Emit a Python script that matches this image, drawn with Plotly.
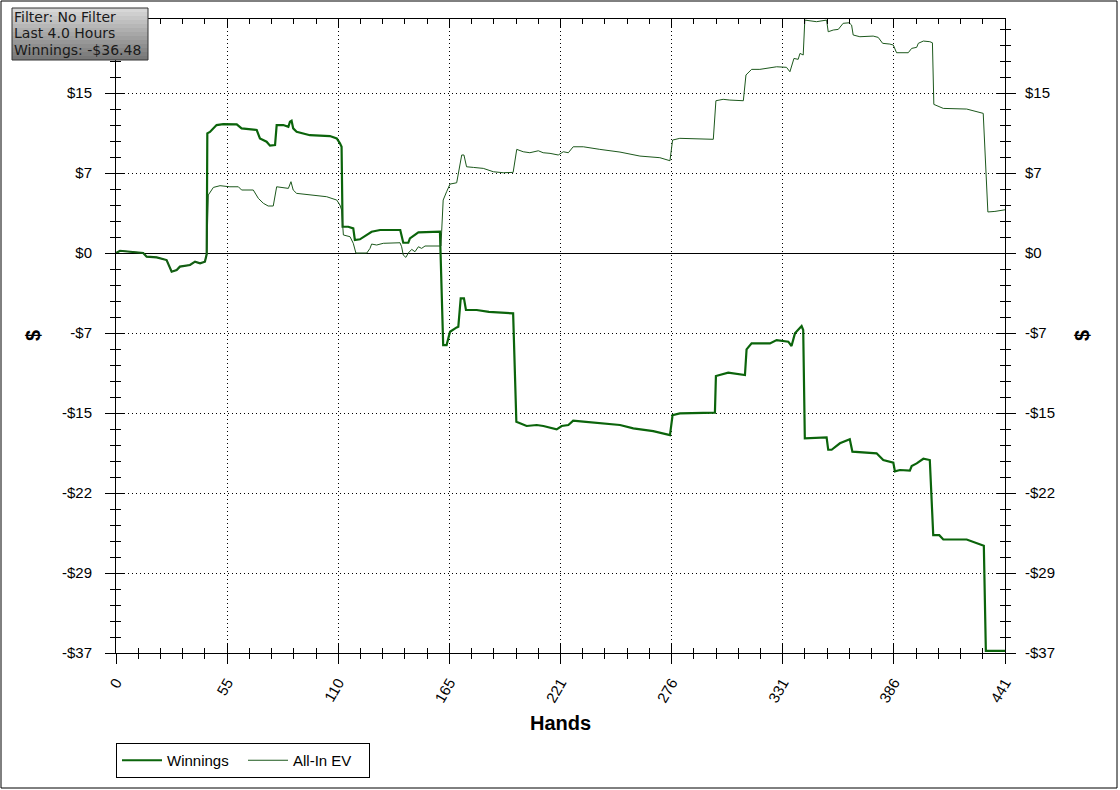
import plotly.graph_objects as go

# ---------------- data ----------------
win_hands = [0, 2, 7, 13.5, 15.2, 20.2, 25.1, 27.6, 30.1, 31.7, 36.7, 39.2, 41.7, 44.1, 45,
             45.3, 46.6, 49.9, 53.2, 59.9, 62.3, 69.8, 71.4, 74.7, 76.4, 78.9, 79.7, 83, 85.5,
             86.3, 87.1, 87.9, 89.6, 96.2, 106.1, 109.5, 111.1, 111.9, 112.4, 115.2, 117.7,
             118.5, 121, 126.8, 131, 141, 142.5, 145, 145.8, 150, 160.7, 162, 162.3, 164,
             165.7, 169, 169.8, 171, 172.6, 173.6, 178.9, 185, 197, 198.6, 203.7, 208.7, 212,
             218.6, 221.1, 224.4, 226.8, 231.8, 240, 250, 256.6, 266.5, 274.8, 276.1, 279.7,
             297.1, 297.6, 303.7, 312, 312.8, 315.3, 324.4, 327.7, 333.5, 335.1, 336.8, 340.1,
             340.9, 341.7, 352.5, 353.3, 355, 359.1, 364, 365.3, 377.3, 380.6, 385.6, 386.4,
             388.9, 393.8, 394.7, 397.2, 400.5, 403.7, 405.4, 408.4, 410.4, 422, 425.2, 428.5,
             430.5, 431.5, 441]
win_values = [0, 0.21, 0.12, 0.0, -0.34, -0.40, -0.65, -1.73, -1.57, -1.26, -1.11, -0.80, -0.96,
              -0.80, -0.1, 11.07, 11.2, 11.84, 11.93, 11.9, 11.53, 11.38, 10.6, 10.3, 9.93, 9.99,
              11.84, 11.84, 11.68, 12.15, 12.24, 11.53, 11.22, 10.9, 10.82, 10.6, 10.15, 9.83,
              2.43, 2.43, 2.28, 1.2, 1.27, 1.97, 2.13, 2.13, 0.95, 0.95, 1.36, 1.91, 1.97, -7.74,
              -8.51, -8.51, -7.28, -6.88, -6.82, -4.19, -4.19, -5.27, -5.27, -5.45, -5.58,
              -15.6, -16.0, -15.91, -16.0, -16.31, -16.0, -15.91, -15.51, -15.6, -15.76,
              -15.91, -16.22, -16.47, -16.84, -14.99, -14.83, -14.77, -11.38, -11.07, -11.29,
              -8.91, -8.36, -8.36, -8.05, -8.2, -8.6, -7.43, -6.75, -7.12, -17.14, -17.05,
              -18.2, -18.2, -17.6, -17.23, -18.38, -18.53, -19.15, -19.4, -20.2, -20.07,
              -20.13, -19.7, -19.46, -19.03, -19.15, -26.1, -26.1, -26.5, -26.5, -26.7,
              -26.92, -27.07, -36.8, -36.8]

ev_hands = [0, 2, 7, 13.5, 15.2, 20.2, 25.1, 27.6, 30.1, 31.7, 36.7, 39.2, 41.7, 44.1, 45,
            45.8, 48.3, 51.6, 56.5, 60.7, 62.3, 68.1, 70.6, 73.1, 75.5, 78, 79.7, 83, 85.5,
            86.8, 87.9, 89.6, 96.2, 102.8, 104.5, 109.5, 111.1, 111.9, 112.8, 116.1, 117.7,
            119, 124.4, 126, 126.8, 129.3, 132.6, 140.9, 141.7, 142.5, 143.8, 145, 146.7,
            148.3, 150, 151.6, 153.3, 161.2, 162.3, 164, 165.7, 169, 170.3, 171.5, 172.6,
            173.9, 177.3, 182.2, 187.2, 192.1, 197, 198.8, 202, 205.3, 209.5, 211.9, 215.3,
            219.4, 221.9, 224.4, 226.8, 231.8, 240, 250, 259.9, 269.8, 274.8, 276.1, 279.7,
            296.3, 297.6, 301.2, 304.5, 311.2, 312.5, 315.3, 319.4, 326, 327.7, 332.6, 334.3,
            336.3, 338.4, 339.3, 340.9, 341.7, 347.5, 352.5, 353.3, 355.8, 358.3, 360.7,
            363.7, 364.9, 365.7, 369, 373.1, 375.6, 378.1, 380.3, 383.9, 385.6, 387.2, 393,
            394.7, 397.2, 398, 400.5, 403.7, 405, 405.7, 410.4, 422, 425.2, 430.2, 432.5,
            436, 441]
ev_values = [0, 0.21, 0.12, 0.0, -0.34, -0.40, -0.65, -1.73, -1.57, -1.26, -1.11, -0.80, -0.96,
             -0.80, -0.1, 5.37, 6.07, 6.23, 6.13, 6.13, 5.83, 5.83, 5.06, 4.6, 4.35, 4.35, 6.13,
             6.08, 5.98, 6.6, 5.83, 5.52, 5.37, 5.27, 5.21, 4.9, 4.44, 3.98, 1.67, 1.51, 0.9,
             0.0, 0.0, 0.43, 0.83, 0.74, 0.9, 0.95, 0.58, -0.19, -0.4, 0.0, 0.34, 0.12, 0.58,
             0.43, 0.65, 0.65, 4.9, 5.67, 6.38, 6.5, 7.98, 9.07, 9.07, 7.98, 7.92, 7.83, 7.52,
             7.43, 7.46, 9.59, 9.37, 9.28, 9.46, 9.28, 9.22, 9.07, 9.37, 9.28, 9.83, 9.83,
             9.59, 9.34, 8.97, 8.82, 8.54, 10.45, 10.61, 10.52, 14.09, 14.22, 14.15, 14.09,
             16.47, 16.99, 16.99, 17.18, 17.23, 17.18, 16.77, 18.0, 17.92, 18.47, 18.32,
             21.55, 21.4, 21.55, 20.47, 20.63, 20.69, 21.25, 21.3, 21.09, 20.17, 20.01, 20.01,
             20.07, 19.95, 19.4, 19.33, 19.24, 18.53, 18.53, 18.93, 19.03, 19.4, 19.61, 19.55,
             19.45, 13.75, 13.38, 13.32, 13.14, 12.92, 3.8, 3.85, 4.0]

x_tickvals = [0, 55.125, 110.25, 165.375, 220.5, 275.625, 330.75, 385.875, 441]
x_ticktext = ["0", "55", "110", "165", "221", "276", "331", "386", "441"]
y_tickvals = [-37, -29.6, -22.2, -14.8, -7.4, 0, 7.4, 14.8]
y_ticktext = ["-$37", "-$29", "-$22", "-$15", "-$7", "$0", "$7", "$15"]
x_range = [0, 441]
y_range = [-37, 21.65]
info_lines = ["Filter: No Filter", "Last 4.0 Hours", "Winnings: -$36.48"]

# ---------------- figure ----------------
W, H = 1120, 790
L, R, T, B = 116, 115, 19, 137
PW, PH = W - L - R, H - T - B


def px_x(p):
    return (p - L) / PW


def px_y(p):
    return (H - B - p) / PH


TICKFONT = dict(family="Liberation Sans, Arial, sans-serif", size=15, color="#000")

fig = go.Figure()
fig.add_trace(go.Scatter(x=win_hands, y=win_values, mode="lines", name="Winnings",
                         line=dict(color="#0b640b", width=2.2), hoverinfo="x+y"))
fig.add_trace(go.Scatter(x=ev_hands, y=ev_values, mode="lines", name="All-In EV",
                         line=dict(color="#1c581c", width=1), hoverinfo="x+y"))
# helper traces so the overlay axes get drawn (invisible)
fig.add_trace(go.Scatter(x=win_hands, y=win_values, xaxis="x2", yaxis="y2", mode="lines",
                         line=dict(width=0, color="rgba(0,0,0,0)"), showlegend=False,
                         hoverinfo="skip"))
fig.add_trace(go.Scatter(x=win_hands, y=win_values, xaxis="x2", yaxis="y3", mode="lines",
                         line=dict(width=0, color="rgba(0,0,0,0)"), showlegend=False,
                         hoverinfo="skip"))

minor_x = dict(tick0=0, dtick=441 / 40, ticklen=5, tickcolor="#000", tickwidth=1)
minor_y = dict(tick0=-37, dtick=1.48, ticklen=5, tickcolor="#000", tickwidth=1)

fig.update_layout(
    width=W, height=H,
    margin=dict(l=L, r=R, t=T, b=B, pad=0, autoexpand=False),
    paper_bgcolor="white", plot_bgcolor="white",
    showlegend=True,
    legend=dict(orientation="h", xref="container", yref="container",
                x=L / W, xanchor="left", y=1 - 743 / H, yanchor="top",
                bordercolor="#000", borderwidth=1, bgcolor="white",
                font=dict(family="Liberation Sans, Arial, sans-serif", size=15, color="#000"),
                itemwidth=40, entrywidth=71, entrywidthmode="pixels", tracegroupgap=0),
    xaxis=dict(range=x_range, tickmode="array", tickvals=x_tickvals, ticktext=x_ticktext,
               ticks="outside", ticklen=10, tickcolor="#000", tickwidth=1, tickangle=-60,
               tickfont=TICKFONT, showline=True, linecolor="#000", linewidth=1,
               showgrid=True, gridcolor="#000", gridwidth=1, griddash="1px,3px",
               zeroline=False, minor=dict(ticks="outside", **minor_x), ticklabelstandoff=4,
               automargin=False),
    xaxis2=dict(range=x_range, overlaying="x", side="bottom", anchor="y", tickmode="array",
                tickvals=x_tickvals, ticks="inside", ticklen=9, tickcolor="#000",
                showticklabels=False, showgrid=False, zeroline=False, showline=True,
                linecolor="#000", mirror="ticks", minor=dict(ticks="inside", **minor_x)),
    yaxis=dict(range=y_range, tickmode="array", tickvals=y_tickvals, ticktext=y_ticktext,
               ticks="outside", ticklen=10, tickcolor="#000", tickwidth=1,
               tickfont=TICKFONT, showline=True, linecolor="#000", linewidth=1,
               showgrid=True, gridcolor="#000", gridwidth=1, griddash="1px,3px",
               zeroline=True, zerolinecolor="#000", zerolinewidth=1,
               minor=dict(ticks="outside", **minor_y), ticklabelstandoff=10, automargin=False),
    yaxis2=dict(range=y_range, overlaying="y", side="right", anchor="x", tickmode="array",
                tickvals=y_tickvals, ticktext=y_ticktext, ticks="outside", ticklen=10,
                tickcolor="#000", tickfont=TICKFONT, showgrid=False, zeroline=False,
                showline=True, linecolor="#000", minor=dict(ticks="outside", **minor_y),
                ticklabelstandoff=6, automargin=False),
    yaxis3=dict(range=y_range, overlaying="y", side="left", anchor="x", tickmode="array",
                tickvals=y_tickvals, ticks="inside", ticklen=9, tickcolor="#000",
                showticklabels=False, showgrid=False, zeroline=False, showline=True,
                linecolor="#000", mirror="ticks", minor=dict(ticks="inside", **minor_y)),
)

shapes = []
# outer border
shapes.append(dict(type="rect", xref="paper", yref="paper", x0=px_x(1), x1=px_x(1117),
                   y0=px_y(788), y1=px_y(1), line=dict(color="#000", width=1), layer="below"))
# info box with a grey gradient
bx0, bx1, by0, by1 = 12, 148, 8, 60
n = 13
for i in range(n):
    g = int(215 - (215 - 120) * i / (n - 1))
    ya = by0 + (by1 - by0) * i / n
    yb = by0 + (by1 - by0) * (i + 1) / n
    shapes.append(dict(type="rect", xref="paper", yref="paper", x0=px_x(bx0), x1=px_x(bx1),
                       y0=px_y(yb), y1=px_y(ya), fillcolor=f"rgb({g},{g},{g})",
                       line=dict(width=0), layer="above"))
shapes.append(dict(type="rect", xref="paper", yref="paper", x0=px_x(bx0), x1=px_x(bx1),
                   y0=px_y(by1), y1=px_y(by0), line=dict(color="#333", width=1),
                   layer="above"))
fig.update_layout(shapes=shapes)

ann = []
for i, (txt, yc) in enumerate(zip(info_lines, [16.5, 33, 50])):
    ann.append(dict(text=txt, xref="paper", yref="paper", x=px_x(12), y=px_y(yc),
                    xanchor="left", yanchor="middle", showarrow=False,
                    font=dict(family="DejaVu Sans, Verdana, sans-serif", size=14,
                              color="#1a1a1a")))
ann.append(dict(text="<b>Hands</b>", xref="paper", yref="paper", x=px_x(560), y=px_y(723),
                xanchor="center", yanchor="middle", showarrow=False,
                font=dict(family="Liberation Sans, Arial, sans-serif", size=20, color="#000")))
for xp in (33, 1082):
    ann.append(dict(text="<b>$</b>", xref="paper", yref="paper", x=px_x(xp), y=px_y(336),
                    xanchor="center", yanchor="middle", showarrow=False, textangle=-90,
                    font=dict(family="Liberation Sans, Arial, sans-serif", size=20,
                              color="#000")))
fig.update_layout(annotations=ann)

fig.write_html("out.html", config={"displayModeBar": False},
               post_script="document.body.style.margin='0';document.body.style.padding='0';")
